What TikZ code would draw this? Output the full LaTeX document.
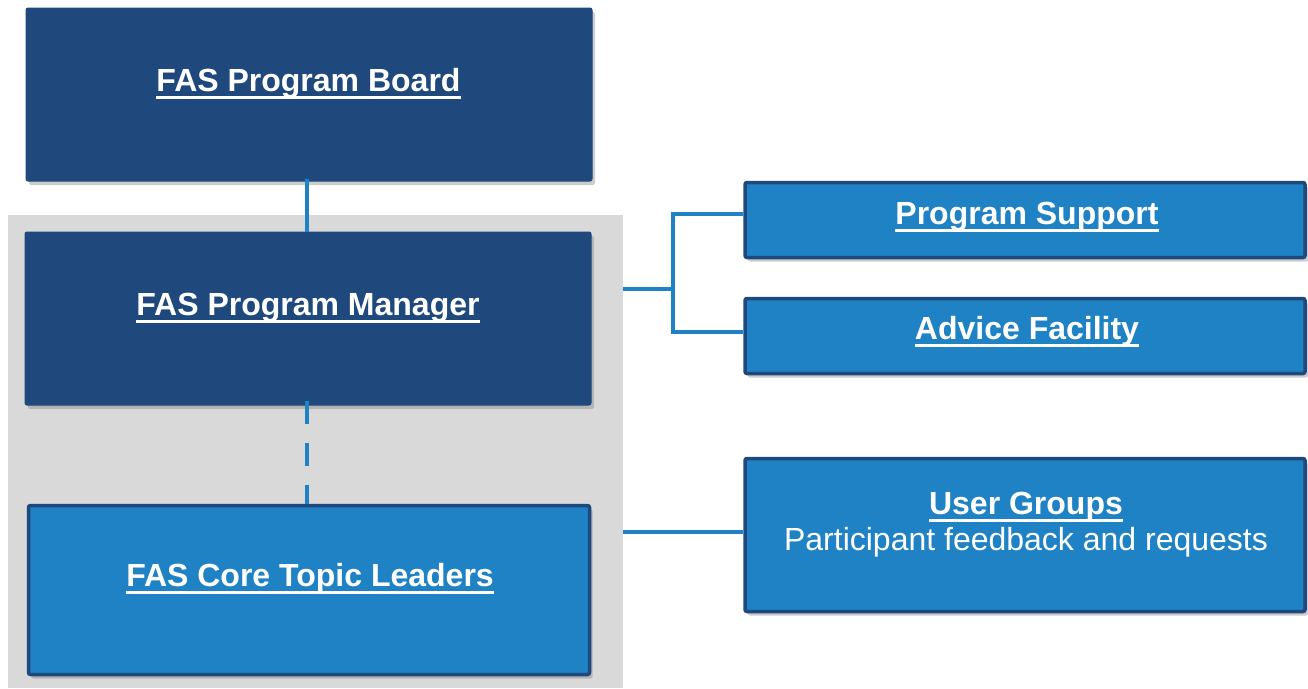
\documentclass[tikz,border=0pt]{standalone}
\usepackage{fontspec}
\setmainfont{Liberation Sans}
\usetikzlibrary{shadows}
\definecolor{darkblue}{RGB}{31,73,125}
\definecolor{lightblue}{RGB}{30,130,196}
\definecolor{bggray}{RGB}{217,217,217}
\newcommand\ulx[1]{\setbox0\hbox{#1}\rlap{\rule[-8pt]{\wd0}{3pt}}\box0}
\tikzset{
  darkbox/.style={rectangle, fill=darkblue, draw=darkblue, line width=1pt, rounded corners=2pt, inner sep=0pt,
    drop shadow={shadow xshift=3pt, shadow yshift=-4pt, opacity=0.4}},
  lightbox/.style={rectangle, fill=lightblue, draw=darkblue, line width=3.5pt, rounded corners=2pt, inner sep=0pt,
    drop shadow={shadow xshift=3pt, shadow yshift=-4pt, opacity=0.4}},
  title/.style={anchor=base, text=white, inner sep=0pt, font=\fontsize{32}{38}\selectfont\bfseries},
  subtitle/.style={anchor=base, text=white, inner sep=0pt, font=\fontsize{32}{38}\selectfont},
  conn/.style={draw=lightblue, line width=4.5pt},
}
\begin{document}
\begin{tikzpicture}[x=1pt,y=-1pt]
\useasboundingbox (0,0) rectangle (1308,688);
% gray background
\node[rectangle, fill=bggray, inner sep=0pt, minimum width=615pt, minimum height=473pt] (bg) at (315.5,451.5) {};
% boxes
\node[darkbox, minimum width=566pt, minimum height=173pt] (board) at (309,94.5) {};
\node[darkbox, minimum width=566pt, minimum height=173pt] (mgr) at (308,318.5) {};
\node[lightbox, minimum width=561pt, minimum height=169pt] (core) at (309,590) {};
\node[lightbox, minimum width=560pt, minimum height=75pt] (ps) at (1025,220) {};
\node[lightbox, minimum width=560pt, minimum height=75pt] (af) at (1025,336) {};
\node[lightbox, minimum width=560pt, minimum height=153pt] (ug) at (1025,535) {};
% texts
\node[title] (tboard) at (308.5,91) {\ulx{FAS Program Board}};
\node[title] (tmgr) at (308,315) {\ulx{FAS Program Manager}};
\node[title] (tcore) at (310,586) {\ulx{FAS Core Topic Leaders}};
\node[title] (tps) at (1027,224) {\ulx{Program Support}};
\node[title] (taf) at (1027,339) {\ulx{Advice Facility}};
\node[title] (tug) at (1026,514) {\ulx{User Groups}};
\node[subtitle] (tug2) at (1026,550) {Participant feedback and requests};
% connectors
\coordinate (cx) at (307,0);
\draw[conn] ([yshift=3pt]board.south -| cx) -- (mgr.north -| cx);
\draw[conn, dash pattern=on 23pt off 19pt] ([yshift=5pt]mgr.south -| cx) -- (core.north -| cx);
\coordinate (jm) at (623,289);
\coordinate (jx) at (673,289);
\coordinate (jt) at (673,214);
\coordinate (jb) at (673,332);
\draw[conn] (jm) -- (jx);
\draw[conn] (ps.west |- jt) -- (jt) -- (jb) -- (af.west |- jb);
\coordinate (jc) at (623,532);
\draw[conn] (jc) -- (ug.west |- jc);
\end{tikzpicture}
\end{document}
